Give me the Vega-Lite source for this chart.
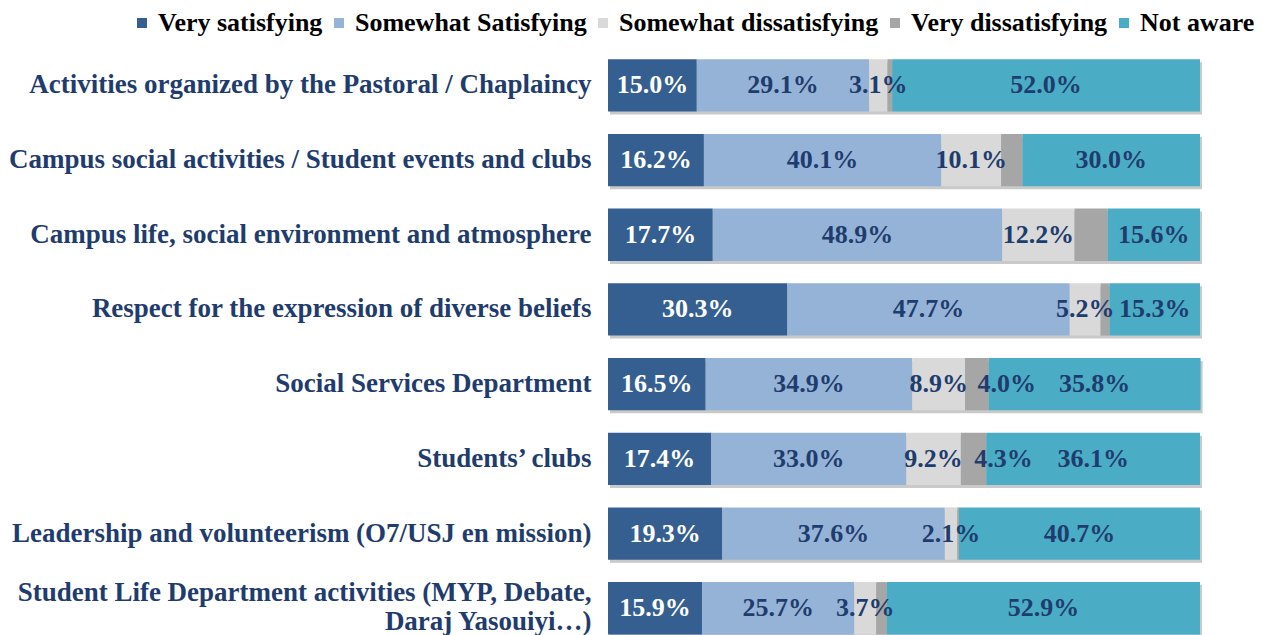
{
  "$schema": "https://vega.github.io/schema/vega-lite/v6.json",
  "width": 592,
  "height": 597.6,
  "autosize": {"type": "none"},
  "padding": {"left": 608, "top": 48, "right": 71, "bottom": 0},
  "background": "white",
  "config": {"view": {"stroke": null}, "font": "Liberation Serif"},
  "data": {
    "values": [
      {"item": "Activities organized by the Pastoral / Chaplaincy", "cat": "Very satisfying", "value": 15.0},
      {"item": "Activities organized by the Pastoral / Chaplaincy", "cat": "Somewhat Satisfying", "value": 29.1},
      {"item": "Activities organized by the Pastoral / Chaplaincy", "cat": "Somewhat dissatisfying", "value": 3.1},
      {"item": "Activities organized by the Pastoral / Chaplaincy", "cat": "Very dissatisfying", "value": 0.8},
      {"item": "Activities organized by the Pastoral / Chaplaincy", "cat": "Not aware", "value": 52.0},
      {"item": "Campus social activities / Student events and clubs", "cat": "Very satisfying", "value": 16.2},
      {"item": "Campus social activities / Student events and clubs", "cat": "Somewhat Satisfying", "value": 40.1},
      {"item": "Campus social activities / Student events and clubs", "cat": "Somewhat dissatisfying", "value": 10.1},
      {"item": "Campus social activities / Student events and clubs", "cat": "Very dissatisfying", "value": 3.6},
      {"item": "Campus social activities / Student events and clubs", "cat": "Not aware", "value": 30.0},
      {"item": "Campus life, social environment and atmosphere", "cat": "Very satisfying", "value": 17.7},
      {"item": "Campus life, social environment and atmosphere", "cat": "Somewhat Satisfying", "value": 48.9},
      {"item": "Campus life, social environment and atmosphere", "cat": "Somewhat dissatisfying", "value": 12.2},
      {"item": "Campus life, social environment and atmosphere", "cat": "Very dissatisfying", "value": 5.6},
      {"item": "Campus life, social environment and atmosphere", "cat": "Not aware", "value": 15.6},
      {"item": "Respect for the expression of diverse beliefs", "cat": "Very satisfying", "value": 30.3},
      {"item": "Respect for the expression of diverse beliefs", "cat": "Somewhat Satisfying", "value": 47.7},
      {"item": "Respect for the expression of diverse beliefs", "cat": "Somewhat dissatisfying", "value": 5.2},
      {"item": "Respect for the expression of diverse beliefs", "cat": "Very dissatisfying", "value": 1.5},
      {"item": "Respect for the expression of diverse beliefs", "cat": "Not aware", "value": 15.3},
      {"item": "Social Services Department", "cat": "Very satisfying", "value": 16.5},
      {"item": "Social Services Department", "cat": "Somewhat Satisfying", "value": 34.9},
      {"item": "Social Services Department", "cat": "Somewhat dissatisfying", "value": 8.9},
      {"item": "Social Services Department", "cat": "Very dissatisfying", "value": 4.0},
      {"item": "Social Services Department", "cat": "Not aware", "value": 35.8},
      {"item": "Students’ clubs", "cat": "Very satisfying", "value": 17.4},
      {"item": "Students’ clubs", "cat": "Somewhat Satisfying", "value": 33.0},
      {"item": "Students’ clubs", "cat": "Somewhat dissatisfying", "value": 9.2},
      {"item": "Students’ clubs", "cat": "Very dissatisfying", "value": 4.3},
      {"item": "Students’ clubs", "cat": "Not aware", "value": 36.1},
      {"item": "Leadership and volunteerism (O7/USJ en mission)", "cat": "Very satisfying", "value": 19.3},
      {"item": "Leadership and volunteerism (O7/USJ en mission)", "cat": "Somewhat Satisfying", "value": 37.6},
      {"item": "Leadership and volunteerism (O7/USJ en mission)", "cat": "Somewhat dissatisfying", "value": 2.1},
      {"item": "Leadership and volunteerism (O7/USJ en mission)", "cat": "Very dissatisfying", "value": 0.3},
      {"item": "Leadership and volunteerism (O7/USJ en mission)", "cat": "Not aware", "value": 40.7},
      {"item": "Student Life Department activities (MYP, Debate, Daraj Yasouiyi…)", "cat": "Very satisfying", "value": 15.9},
      {"item": "Student Life Department activities (MYP, Debate, Daraj Yasouiyi…)", "cat": "Somewhat Satisfying", "value": 25.7},
      {"item": "Student Life Department activities (MYP, Debate, Daraj Yasouiyi…)", "cat": "Somewhat dissatisfying", "value": 3.7},
      {"item": "Student Life Department activities (MYP, Debate, Daraj Yasouiyi…)", "cat": "Very dissatisfying", "value": 1.8},
      {"item": "Student Life Department activities (MYP, Debate, Daraj Yasouiyi…)", "cat": "Not aware", "value": 52.9}
    ]
  },
  "transform": [
    {"calculate": "indexof(['Very satisfying','Somewhat Satisfying','Somewhat dissatisfying','Very dissatisfying','Not aware'], datum.cat)", "as": "ord"},
    {"stack": "value", "groupby": ["item"], "sort": [{"field": "ord"}], "as": ["v0", "v1"]},
    {"calculate": "(datum.v0 + datum.v1) / 2", "as": "mid"},
    {"calculate": "format(datum.value, '.1f') + '%'", "as": "lbl"}
  ],
  "encoding": {
    "y": {
      "field": "item",
      "type": "nominal",
      "sort": [
        "Activities organized by the Pastoral / Chaplaincy",
        "Campus social activities / Student events and clubs",
        "Campus life, social environment and atmosphere",
        "Respect for the expression of diverse beliefs",
        "Social Services Department",
        "Students’ clubs",
        "Leadership and volunteerism (O7/USJ en mission)",
        "Student Life Department activities (MYP, Debate, Daraj Yasouiyi…)"
      ],
      "scale": {"paddingInner": 0.3, "paddingOuter": 0.15},
      "axis": {
        "title": null,
        "ticks": false,
        "domain": false,
        "labelPadding": 17,
        "labelFont": "Liberation Serif",
        "labelFontSize": 27,
        "labelFontWeight": "bold",
        "labelColor": "#1F3C6E",
        "labelLimit": 1000,
        "labelLineHeight": 29,
        "labelOffset": {"condition": {"test": "indexof(datum.value, 'Daraj') >= 0", "value": -15}, "value": 0},
        "labelExpr": "indexof(datum.value, 'Daraj') >= 0 ? ['Student Life Department activities (MYP, Debate,', 'Daraj Yasouiyi…)'] : datum.label"
      }
    }
  },
  "layer": [
    {
      "transform": [{"aggregate": [{"op": "max", "field": "v1", "as": "tot"}], "groupby": ["item"]}],
      "mark": {"type": "bar", "color": "#C9C9C9", "yOffset": 3, "xOffset": 2},
      "encoding": {
        "x": {"field": "tot", "type": "quantitative", "scale": {"domain": [0, 100]}, "axis": null}
      }
    },
    {
      "mark": {"type": "bar"},
      "encoding": {
        "x": {"field": "v0", "type": "quantitative", "scale": {"domain": [0, 100]}, "axis": null},
        "x2": {"field": "v1"},
        "color": {
          "field": "cat",
          "type": "nominal",
          "scale": {
            "domain": ["Very satisfying", "Somewhat Satisfying", "Somewhat dissatisfying", "Very dissatisfying", "Not aware"],
            "range": ["#355F91", "#95B3D7", "#D9D9D9", "#A6A6A6", "#4BACC6"]
          },
          "legend": {
            "title": null,
            "orient": "none",
            "direction": "horizontal",
            "legendX": -479,
            "legendY": -38,
            "symbolType": "square",
            "symbolSize": 100,
            "symbolStrokeWidth": 0,
            "symbolOpacity": 1,
            "labelFont": "Liberation Serif",
            "labelFontSize": 26,
            "labelFontWeight": "bold",
            "labelColor": "#000000",
            "labelOffset": 3,
            "labelLimit": 1000,
            "columnPadding": 3
          }
        }
      }
    },
    {
      "transform": [{"filter": "datum.cat == 'Very satisfying'"}],
      "mark": {"type": "text", "font": "Liberation Serif", "fontSize": 26, "fontWeight": "bold", "color": "#FFFFFF", "baseline": "middle", "align": "center"},
      "encoding": {
        "x": {"field": "mid", "type": "quantitative", "scale": {"domain": [0, 100]}, "axis": null},
        "text": {"field": "lbl"}
      }
    },
    {
      "transform": [{"filter": "datum.cat != 'Very satisfying' && datum.cat != 'Very dissatisfying'"}],
      "mark": {"type": "text", "font": "Liberation Serif", "fontSize": 26, "fontWeight": "bold", "color": "#1F3C6E", "baseline": "middle", "align": "center"},
      "encoding": {
        "x": {"field": "mid", "type": "quantitative", "scale": {"domain": [0, 100]}, "axis": null},
        "text": {"field": "lbl"}
      }
    },
    {
      "transform": [{"filter": "datum.cat == 'Very dissatisfying' && (datum.item == 'Social Services Department' || datum.item == 'Students’ clubs')"}],
      "mark": {"type": "text", "font": "Liberation Serif", "fontSize": 26, "fontWeight": "bold", "color": "#1F3C6E", "baseline": "middle", "align": "center", "dx": 30},
      "encoding": {
        "x": {"field": "mid", "type": "quantitative", "scale": {"domain": [0, 100]}, "axis": null},
        "text": {"field": "lbl"}
      }
    }
  ]
}
